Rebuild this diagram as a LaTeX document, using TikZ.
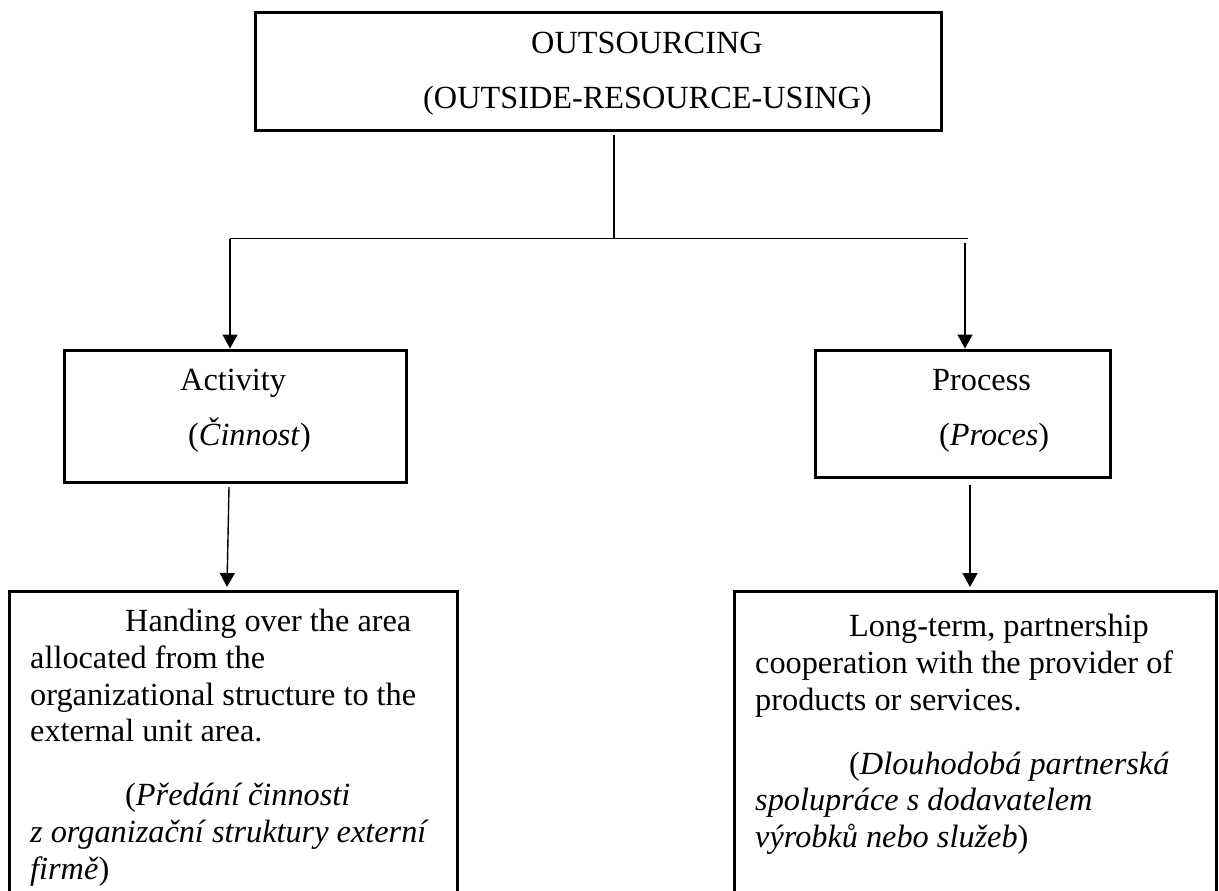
\documentclass[tikz,border=0pt]{standalone}
\usepackage{fontspec}
\setmainfont{Liberation Serif}
\usetikzlibrary{arrows.meta}
\tikzset{frame/.style={draw, line width=3pt, inner sep=0pt},
 link/.style={draw, line width=1.4pt},
 arrow/.style={link, -{Triangle[length=14pt,width=15pt]}},
 label/.style={inner sep=0pt, anchor=base west},
 para/.style={inner sep=0pt, anchor=north west, align=left},
 every node/.style={font=\fontsize{32.3pt}{36.7pt}\selectfont},
 }

\begin{document}
\begin{tikzpicture}[x=1pt, y=-1pt]
    \useasboundingbox (0,0) rectangle (1219,891);
    \clip (0,0) rectangle (1219,891);

    % boxes
    \node[frame, minimum width=686pt, minimum height=117.5pt] (outsrc) at (598,71.25) {};
    \node[frame, minimum width=342pt, minimum height=132pt] (act) at (235.5,416) {};
    \node[frame, minimum width=295pt, minimum height=127pt] (proc) at (962.5,413.5) {};
    \node[frame, minimum width=448pt, minimum height=314pt] (hand) at (233,748) {};
    \node[frame, minimum width=482pt, minimum height=314pt] (coop) at (975,748) {};

    % texts
    \node[label] (outsrcA) at (531,54) {OUTSOURCING};
    \node[label] (outsrcB) at (423,108.5) {(OUTSIDE-RESOURCE-USING)};
    \node[label] (actA) at (180,390) {Activity};
    \node[label] (actB) at (188,445) {(\textit{Činnost})};
    \node[label] (procA) at (932,390) {Process};
    \node[label] (procB) at (939,445) {(\textit{Proces})};
    \node[para] (handT) at (30,609) {\hspace*{95pt}Handing over the area\\
        allocated from the\\
        organizational structure to the\\
        external unit area.\\[27.3pt]
        \hspace*{95pt}(\textit{Předání činnosti}\\
        \textit{z organizační struktury externí}\\
        \textit{firmě})};
    \node[para] (coopT) at (755,614) {\hspace*{94pt}Long-term, partnership\\
        cooperation with the provider of\\
        products or services.\\[27.3pt]
        \hspace*{94pt}(\textit{Dlouhodobá partnerská}\\
        \textit{spolupráce s dodavatelem}\\
        \textit{výrobků nebo služeb})};

    % connectors
    \coordinate (stem) at (614,135);
    \coordinate (fork) at (614,238.6);
    \coordinate (jl) at (230,238.6);
    \coordinate (jr) at (968,238.6);
    \coordinate (jrd) at (965,243);
    \coordinate (a1) at (229,487);
    \coordinate (a2) at (227,587);
    \coordinate (p1) at (970,485);
    \coordinate (p2) at (970,587);
    \draw[link] (stem) -- (fork);
    \draw[link] (jl) -- (jr);
    \draw[arrow] (jl) -- (jl |- act.north);
    \draw[arrow] (jrd) -- (jrd |- proc.north);
    \draw[arrow] (a1) -- (a2);
    \draw[arrow] (p1) -- (p2);
\end{tikzpicture}
\end{document}
